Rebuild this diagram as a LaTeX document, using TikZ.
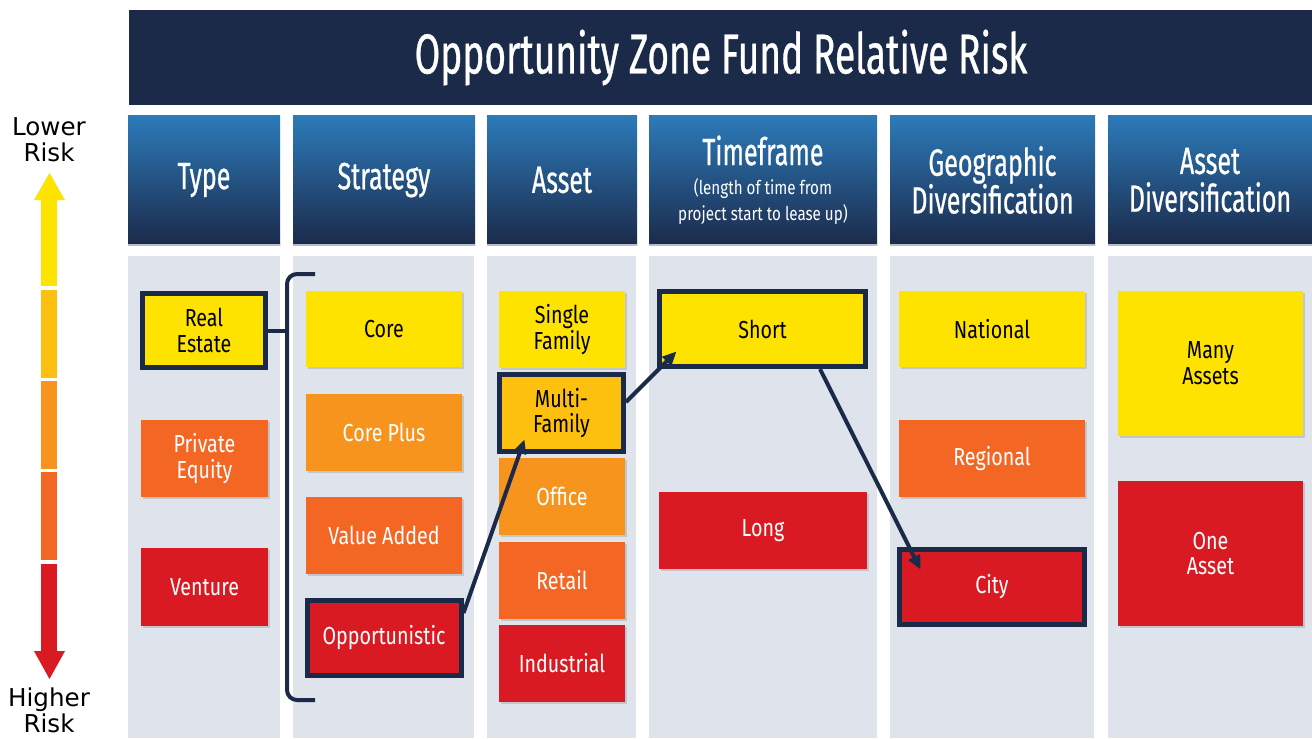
\documentclass[tikz,border=0pt]{standalone}
\usepackage{fontspec}
\setmainfont{Fira Sans}
\newfontfamily\titlefont[FakeStretch=0.66,FakeBold=0.6]{Fira Sans}
\newfontfamily\labelfont[FakeStretch=0.8]{Fira Sans}
\newfontfamily\riskfont{DejaVu Sans}
\newcommand\subfont{\labelfont\fontsize{10.8}{14.2}\selectfont}
\usetikzlibrary{shadows,arrows.meta,calc}

\definecolor{ozyellow}{HTML}{FFE300}
\definecolor{ozamber}{HTML}{FDC00F}
\definecolor{ozlight}{HTML}{F7941D}
\definecolor{ozorange}{HTML}{F36624}
\definecolor{ozred}{HTML}{DA1A22}
\definecolor{oznavy}{HTML}{1C2A4A}
\definecolor{ozsky}{HTML}{2C7BBB}
\definecolor{ozgray}{HTML}{DFE3EC}
\definecolor{ozline}{HTML}{B4BCD0}

\begin{document}
\begin{tikzpicture}[x=0.02cm,y=-0.02cm,
  boxsize/.style 2 args={minimum width=#1*0.02cm,minimum height=#2*0.02cm},
  riskbox/.style={inner sep=0pt,align=center,text=white,
    font=\labelfont\fontsize{14}{14.7}\selectfont,
    drop shadow={shadow xshift=1.2pt,shadow yshift=-1.2pt,opacity=0.3}},
  chosen/.style={draw=oznavy,line width=0.1cm},
  colhead/.style={inner sep=0pt,align=center,text=white,top color=ozsky,bottom color=oznavy,
    font=\titlefont\fontsize{21.6}{21.5}\selectfont},
  riskarrow/.style={draw=oznavy,line width=0.08cm,-{Triangle[length=8pt,width=7pt]}},
  bracketline/.style={draw=oznavy,line width=0.08cm},
]
  \useasboundingbox (0,0) rectangle (1312,738);

  % title bar
  \node[fill=oznavy,text=white,inner sep=0pt,boxsize={1184}{95},
    font=\titlefont\fontsize{32}{32}\selectfont] (title) at (721,57.5) {Opportunity Zone Fund Relative Risk};

  % column bodies
  \foreach \a/\b in {128/280,293/474,487/636,649/877,890/1094,1108/1312}
    \fill[ozgray] (\a,256) rectangle (\b,738);

  % column headers
  \node[colhead,boxsize={152}{130}] (htype) at (204,180) {Type};
  \node[colhead,boxsize={182}{130}] (hstrat) at (384,180) {Strategy};
  \node[colhead,boxsize={150}{130}] (hasset) at (562,180) {Asset};
  \node[colhead,boxsize={228}{130}] (htime) at (763,180)
    {Timeframe\\[-4.5pt]{\subfont (length of time from}\\[-7pt]{\subfont project start to lease up)}};
  \node[colhead,boxsize={205}{130}] (hgeo) at (992.5,180) {Geographic\\Diversification};
  \node[colhead,boxsize={204}{130}] (hdiv) at (1210,180) {Asset\\Diversification};
  \foreach \h in {htype,hstrat,hasset,htime,hgeo,hdiv}
    \draw[ozline,line width=0.04cm] (\h.south west) -- (\h.south east);

  % type
  \node[riskbox,chosen,fill=ozyellow,text=black,boxsize={123}{74}] (realestate) at (204,330.5) {Real\\Estate};
  \node[riskbox,fill=ozorange,boxsize={127}{77}] (equity) at (204.5,458.5) {Private\\Equity};
  \node[riskbox,fill=ozred,boxsize={127}{78}] (venture) at (204.5,587) {Venture};

  % strategy
  \node[riskbox,fill=ozyellow,text=black,boxsize={156}{76}] (core) at (384,329) {Core};
  \node[riskbox,fill=ozlight,boxsize={156}{77}] (coreplus) at (384,432.5) {Core Plus};
  \node[riskbox,fill=ozorange,boxsize={156}{77}] (valueadded) at (384,535.5) {Value Added};
  \node[riskbox,chosen,fill=ozred,boxsize={154}{75}] (opportunistic) at (384,638) {Opportunistic};

  % asset
  \node[riskbox,fill=ozyellow,text=black,boxsize={126}{77}] (single) at (562,329.5) {Single\\Family};
  \node[riskbox,chosen,fill=ozamber,text=black,boxsize={124}{77}] (multi) at (561.5,413) {Multi-\\Family};
  \node[riskbox,fill=ozlight,boxsize={126}{77}] (office) at (562,496.5) {Office};
  \node[riskbox,fill=ozorange,boxsize={126}{77}] (retail) at (562,580.5) {Retail};
  \node[riskbox,fill=ozred,boxsize={126}{77}] (industrial) at (562,663.5) {Industrial};

  % timeframe
  \node[riskbox,chosen,fill=ozyellow,text=black,boxsize={206}{75}] (short) at (762.5,329) {Short};
  \node[riskbox,fill=ozred,boxsize={208}{77}] (long) at (763,530.5) {Long};

  % geographic diversification
  \node[riskbox,fill=ozyellow,text=black,boxsize={186}{76}] (national) at (992,329) {National};
  \node[riskbox,fill=ozorange,boxsize={186}{77}] (regional) at (992,458.5) {Regional};
  \node[riskbox,chosen,fill=ozred,boxsize={185}{75}] (city) at (992,587) {City};

  % asset diversification
  \node[riskbox,fill=ozyellow,text=black,boxsize={185}{145}] (many) at (1210.5,363.5) {Many\\Assets};
  \node[riskbox,fill=ozred,boxsize={185}{145}] (one) at (1210.5,553.5) {One\\Asset};

  % bracket round the strategies
  \coordinate (brtop) at (287,274);
  \draw[bracketline,rounded corners=0.2cm] (315,274) -- (brtop) -- (287,700) -- (315,700);
  \draw[bracketline] (realestate.east) -- (realestate.east -| brtop);

  % chosen path
  \draw[riskarrow] ($(opportunistic.east)+(0,-25)$) -- ($(multi.south west)+(27.5,-14.5)$);
  \draw[riskarrow] ($(multi.east)+(0,-11)$) -- ($(short.south west)+(19.5,-17.5)$);
  \draw[riskarrow] ($(short.south)+(57.5,0)$) -- ($(city.north west)+(23.5,22.5)$);

  % risk scale on the left
  \fill[ozyellow] (34,200) -- (49.5,173) -- (65,200) -- cycle;
  \fill[ozyellow] (41,199) rectangle (57,286);
  \fill[ozamber] (41,290) rectangle (57,378);
  \fill[ozlight] (41,381) rectangle (57,469);
  \fill[ozorange] (41,472) rectangle (57,560);
  \fill[ozred] (41,564) rectangle (57,652);
  \fill[ozred] (34,651) -- (49.5,679) -- (65,651) -- cycle;
  \node[align=center,inner sep=0pt,font=\riskfont\fontsize{14}{14.7}\selectfont] (lower) at (49,140) {Lower\\Risk};
  \node[align=center,inner sep=0pt,font=\riskfont\fontsize{14}{14.7}\selectfont] (higher) at (49,710) {Higher\\Risk};
\end{tikzpicture}
\end{document}
